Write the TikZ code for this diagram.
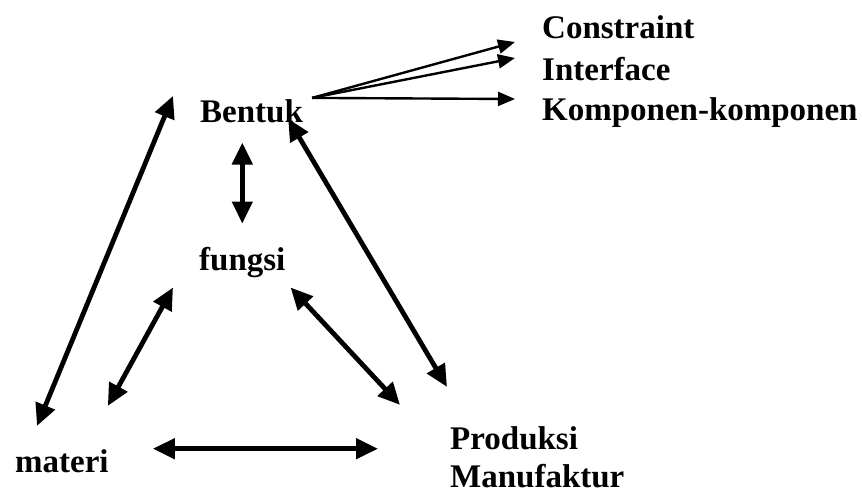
\documentclass[tikz,border=0pt]{standalone}
\usepackage{fontspec}
\setmainfont{Liberation Serif}
\usetikzlibrary{arrows.meta}
\usetikzlibrary{calc}

\begin{document}
\begin{tikzpicture}[x=1pt, y=-1pt,
		lbl/.style={anchor=base west, inner sep=0pt, align=left, font=\fontsize{33}{38}\selectfont\bfseries},
		link/.style={line width=4.8pt, {Triangle[length=22pt,width=20pt]}-{Triangle[length=22pt,width=20pt]}},
		fan/.style={line width=2.4pt, -{Triangle[length=17pt,width=14pt]}}]
			\useasboundingbox (0,0) rectangle (862,493);

			% Labels
			\node[lbl] (bentuk) at (200,122) {Bentuk};
			\node[lbl] (fungsi) at (199,270) {fungsi};
			\node[lbl] (materi) at (15,472) {materi};
			\node[lbl] (produksi) at (450,487) {Produksi\\Manufaktur};
			\node[lbl] (constraint) at (542,38) {Constraint};
			\node[lbl] (interface) at (542,80) {Interface};
			\node[lbl] (komponen) at (542,120) {Komponen-komponen};

			% Fan out of Bentuk
			\coordinate (src) at ([xshift=9pt,yshift=1pt]bentuk.north east);
			\draw[fan] (src) -- ([xshift=-27pt,yshift=-4pt]constraint.base west);
			\draw[fan] (src) -- ([xshift=-27pt,yshift=22pt]interface.base west);
			\draw[fan] (src) -- ([xshift=-27pt,yshift=21pt]komponen.base west);

			% Triangle
			\draw[link] ([yshift=-20pt]bentuk.south -| fungsi.north) -- ([yshift=23pt]fungsi.north);
			\draw[link] ([xshift=-15pt,yshift=4pt]bentuk.south east) -- ([xshift=-3pt,yshift=39pt]produksi.north west);
			\draw[link] ([xshift=-27pt,yshift=3pt]bentuk.north west) -- ([xshift=22pt,yshift=23pt]materi.north west);
			\draw[link] ([xshift=5pt,yshift=-10pt]fungsi.south east) -- ([xshift=-50pt,yshift=21pt]produksi.north west);
			\draw[link] ([xshift=-26pt,yshift=-10pt]fungsi.south west) -- ([xshift=-1pt,yshift=43pt]materi.north east);

			% Bottom
			\coordinate (mid) at ([xshift=44pt,yshift=12pt]materi.east);
			\draw[link] (mid) -- ($(produksi.west |- mid)+(-72,0)$);
		\end{tikzpicture}
\end{document}
